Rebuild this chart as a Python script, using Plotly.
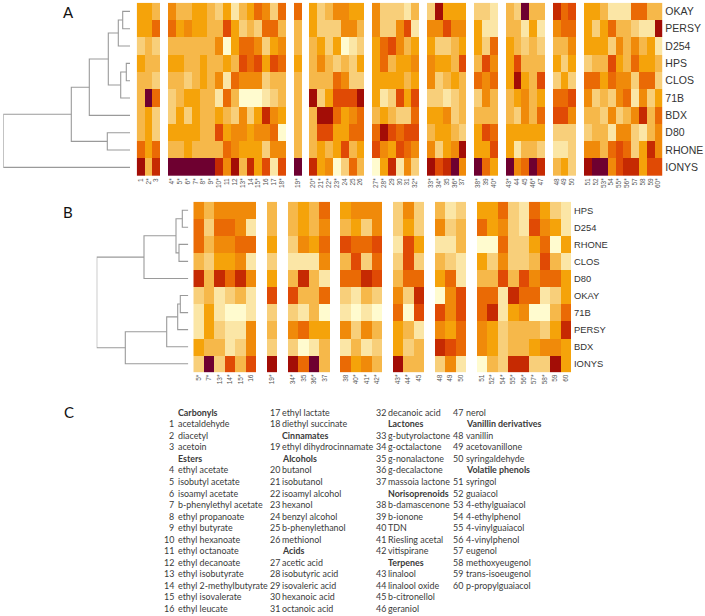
import plotly.graph_objects as go

W, H = 705, 616

rows_a = ["OKAY", "PERSY", "D254", "HPS", "CLOS", "71B", "BDX", "D80", "RHONE", "IONYS"]
groups_a = [
    ["1", "2*", "3"],
    ["4*", "5*", "6*", "7*", "8*", "9*", "10*", "11", "12", "13*", "14", "15*", "16", "17", "18*"],
    ["19*"],
    ["20*", "21*", "22*", "23*", "24", "25", "26"],
    ["27*", "28*", "29", "30", "31", "32*"],
    ["33*", "34*", "35", "36*", "37"],
    ["38*", "39", "40*"],
    ["43*", "44", "45", "46*", "47"],
    ["48", "49", "50"],
    ["51", "52", "53*", "54", "55*", "56*", "57", "58", "59", "60*"],
]
levels_a = [
    [4,4,3, 5,3,3,4,4,3,2,4,1,3,4,6,5,2,6, 6, 4,2,3,5,5,4,4, 5,2,2,2,1,3, 2,9,4,4,4, 2,2,1, 3,2,10,3,3, 8,6,7, 4,4,3,1,1,1,6,6,3,3],
    [4,4,6, 6,4,5,4,4,3,3,7,4,2,3,2,6,6,3, 3, 4,2,2,2,5,5,3, 5,2,2,5,7,1, 5,5,7,5,5, 4,1,1, 3,3,1,4,1, 5,6,6, 4,2,4,6,3,3,2,1,1,9],
    [2,3,2, 3,3,3,3,3,3,5,0,4,6,6,5,2,4,5, 3, 3,4,2,4,0,1,2, 4,6,7,5,3,4, 4,2,2,3,4, 4,2,6, 4,3,2,3,2, 3,3,5, 4,4,4,2,5,3,5,3,4,1],
    [4,3,3, 4,4,3,3,4,3,3,4,3,7,6,7,4,7,6, 4, 3,5,3,2,3,2,4, 4,6,3,4,4,5, 5,4,4,3,7, 3,7,5, 4,7,3,3,3, 4,2,4, 2,3,3,7,4,3,6,4,4,3],
    [3,3,2, 3,3,2,3,4,3,5,1,6,5,5,5,2,3,3, 3, 3,3,3,6,5,2,2, 4,4,4,4,3,4, 5,2,3,4,3, 6,5,6, 4,9,4,3,7, 2,4,2, 6,6,4,6,5,5,2,6,6,2],
    [3,10,6, 2,3,4,4,3,3,1,6,3,0,0,0,1,2,3, 3, 9,2,4,7,7,7,9, 4,1,2,7,4,7, 2,2,1,2,3, 2,5,3, 3,4,5,3,4, 6,6,7, 5,2,3,2,5,6,1,5,2,4],
    [3,4,2, 2,4,2,4,3,3,4,3,2,5,2,4,8,5,4, 3, 3,9,9,6,4,5,6, 3,4,3,2,2,6, 4,4,5,2,3, 3,3,3, 3,2,5,3,6, 7,7,5, 3,3,2,5,2,3,5,8,3,6],
    [3,4,2, 4,4,4,4,3,3,7,4,5,5,4,5,5,6,0, 3, 3,7,7,4,4,6,6, 6,9,7,6,7,7, 3,4,4,3,2, 4,7,6, 4,4,4,4,4, 2,2,2, 2,3,3,1,5,5,2,1,3,5],
    [6,4,6, 3,3,4,3,3,3,3,6,5,4,4,4,2,5,5, 3, 3,4,3,4,7,3,4, 7,5,4,7,6,5, 5,2,4,5,9, 4,4,7, 4,1,3,3,2, 1,1,2, 5,5,3,6,7,6,2,4,8,5],
    [9,3,8, 10,10,10,10,10,10,8,5,9,3,8,4,7,1,7, 10, 8,4,5,0,2,6,3, 0,4,8,1,5,2, 9,7,8,10,5, 10,6,4, 10,5,6,10,8, 3,4,2, 9,10,10,5,7,8,8,4,7,7],
]

rows_b = ["HPS", "D254", "RHONE", "CLOS", "D80", "OKAY", "71B", "PERSY", "BDX", "IONYS"]
groups_b = [
    ["5*", "7*", "13*", "14*", "15*", "16"],
    ["19*"],
    ["34*", "35", "36*", "37"],
    ["38", "40*", "41*", "42*"],
    ["43*", "44*", "45"],
    ["48", "49", "50"],
    ["51", "52*", "54*", "55*", "56*", "57*", "58*", "59", "60"],
]
levels_b = [
    [5,3,5,5,5,5, 3, 3,4,3,6, 4,5,5,5, 2,5,2, 3,1,2, 4,4,6,2,1,6,4,2,1],
    [6,2,6,6,5,1, 3, 3,4,3,5, 3,4,2,5, 2,4,2, 5,2,3, 6,4,5,2,1,7,5,4,1],
    [6,3,5,5,6,6, 4, 2,5,4,6, 7,6,6,7, 1,7,4, 1,1,3, 0,0,6,2,2,4,6,0,4],
    [3,2,4,4,5,1, 2, 1,1,1,5, 3,7,2,6, 2,7,2, 3,2,1, 4,2,5,2,2,3,7,3,1],
    [8,3,8,6,8,5, 4, 3,8,3,1, 6,6,8,7, 3,6,6, 4,6,1, 3,3,7,3,7,5,6,6,4],
    [2,3,1,2,3,1, 7, 7,3,3,6, 2,1,3,2, 5,2,8, 0,5,7, 6,6,1,8,6,6,1,2,4],
    [1,4,1,0,0,1, 2, 2,1,3,0, 1,0,1,0, 6,0,7, 7,5,7, 6,8,1,4,5,0,0,3,6],
    [1,4,2,1,1,5, 3, 5,6,4,4, 5,2,5,3, 4,3,1, 5,4,6, 5,4,2,3,3,3,2,4,8],
    [4,3,3,1,2,5, 2, 2,0,1,3, 1,3,1,2, 4,2,3, 8,7,6, 5,4,2,3,3,4,5,5,4],
    [2,10,2,7,3,7, 9, 9,6,10,3, 6,4,5,3, 9,3,3, 2,5,1, 0,3,2,8,8,2,2,9,4],
]

# dendrogram merges: (child, child, distance); a child is a row index or a previous merge "m<i>"
merges_a = [(0, 1, 7.3), ("m0", 2, 11.7), (3, 4, 3.7), ("m2", 5, 9.3), ("m1", "m3", 21.7),
            ("m4", 6, 40.7), (7, 8, 22.7), ("m5", "m6", 58.7), ("m7", 9, 126.7)]
merges_b = [(0, 1, 6.0), (2, 3, 9.3), ("m0", "m1", 12.3), ("m2", 4, 44.3), (5, 6, 8.0),
            ("m4", 7, 10.6), ("m5", 8, 21.6), ("m6", 9, 63.0), ("m3", "m7", 91.6)]

text_columns = [
    [("", "Carbonyls", 1), ("1", "acetaldehyde", 0), ("2", "diacetyl", 0), ("3", "acetoin", 0), ("", "Esters", 1),
     ("4", "ethyl acetate", 0), ("5", "isobutyl acetate", 0), ("6", "isoamyl acetate", 0),
     ("7", "b-phenylethyl acetate", 0), ("8", "ethyl propanoate", 0), ("9", "ethyl butyrate", 0),
     ("10", "ethyl hexanoate", 0), ("11", "ethyl octanoate", 0), ("12", "ethyl decanoate", 0),
     ("13", "ethyl isobutyrate", 0), ("14", "ethyl 2-methylbutyrate", 0), ("15", "ethyl isovalerate", 0),
     ("16", "ethyl leucate", 0)],
    [("17", "ethyl lactate", 0), ("18", "diethyl succinate", 0), ("", "Cinnamates", 1),
     ("19", "ethyl dihydrocinnamate", 0), ("", "Alcohols", 1), ("20", "butanol", 0), ("21", "isobutanol", 0),
     ("22", "isoamyl alcohol", 0), ("23", "hexanol", 0), ("24", "benzyl alcohol", 0), ("25", "b-phenylethanol", 0),
     ("26", "methionol", 0), ("", "Acids", 1), ("27", "acetic acid", 0), ("28", "isobutyric acid", 0),
     ("29", "isovaleric acid", 0), ("30", "hexanoic acid", 0), ("31", "octanoic acid", 0)],
    [("32", "decanoic acid", 0), ("", "Lactones", 1), ("33", "g-butyrolactone", 0), ("34", "g-octalactone", 0),
     ("35", "g-nonalactone", 0), ("36", "g-decalactone", 0), ("37", "massoia lactone", 0), ("", "Norisoprenoids", 1),
     ("38", "b-damascenone", 0), ("39", "b-ionone", 0), ("40", "TDN", 0), ("41", "Riesling acetal", 0),
     ("42", "vitispirane", 0), ("", "Terpenes", 1), ("43", "linalool", 0), ("44", "linalool oxide", 0),
     ("45", "b-citronellol", 0), ("46", "geraniol", 0)],
    [("47", "nerol", 0), ("", "Vanillin derivatives", 1), ("48", "vanillin", 0), ("49", "acetovanillone", 0),
     ("50", "syringaldehyde", 0), ("", "Volatile phenols", 1), ("51", "syringol", 0), ("52", "guaiacol", 0),
     ("53", "4-ethylguaiacol", 0), ("54", "4-ethylphenol", 0), ("55", "4-vinylguaiacol", 0), ("56", "4-vinylphenol", 0),
     ("57", "eugenol", 0), ("58", "methoxyeugenol", 0), ("59", "trans-isoeugenol", 0), ("60", "p-propylguaiacol", 0)],
]

palette = ["#FFFBCF", "#FBE6A6", "#F8CF7A", "#F6B84A", "#F5A30A", "#F08A0A",
           "#EA6A05", "#E04A05", "#C62A02", "#A30D06", "#6E0030"]
colorscale = [[i / 10, c] for i, c in enumerate(palette)]


def px_x(x):
    return x / W


def px_y(y):
    return 1 - y / H


def layout_groups(groups, levels):
    """Insert one blank column between groups; returns positions, labels, z with gaps."""
    pos, labels = [], []
    p = 0
    for gi, g in enumerate(groups):
        for lab in g:
            pos.append(p)
            labels.append(lab)
            p += 1
        if gi < len(groups) - 1:
            p += 1
    n = p
    z = []
    for row in levels:
        r = [None] * n
        for x, v in zip(pos, row):
            r[x] = v
        z.append(r)
    return pos, labels, z, n


def dendro(merges):
    xs, ys = [], []
    nodes = {}

    def get(c):
        if isinstance(c, str):
            return nodes[c]
        return (0.0, float(c))

    for i, (a, b, d) in enumerate(merges):
        (da, ya), (db, yb) = get(a), get(b)
        xs += [da, d, d, db, None]
        ys += [ya, ya, yb, yb, None]
        nodes[f"m{i}"] = (d, (ya + yb) / 2)
    return xs, ys


fig = go.Figure()


def panel(idx, rows, groups, levels, merges, hx0, hx1, hy0, hy1, dx0, dx1, droot, label_size):
    pos, labels, z, n = layout_groups(groups, levels)
    sx = "" if idx == 0 else str(idx * 2 + 1)
    sy = sx
    dxn = str(idx * 2 + 2)
    fig.add_trace(go.Heatmap(z=z, x=list(range(n)), y=rows, colorscale=colorscale, zmin=0, zmax=10,
                             showscale=False, hoverongaps=False, xaxis="x" + sx, yaxis="y" + sy))
    xs, ys = dendro(merges)
    fig.add_trace(go.Scatter(x=xs, y=ys, mode="lines", line=dict(color="#9A9A9A", width=1.1), showlegend=False,
                             xaxis="x" + dxn, yaxis="y" + dxn, hoverinfo="skip"))
    fig.layout["xaxis" + sx] = dict(domain=[px_x(hx0), px_x(hx1)], anchor="y" + sy, range=[-0.5, n - 0.5],
                                    tickmode="array", tickvals=pos, ticktext=labels, tickangle=-90,
                                    tickfont=dict(family="Liberation Sans", size=6.5, color="#555"),
                                    ticks="", showgrid=False, zeroline=False, showline=False, ticklabelstandoff=0)
    fig.layout["yaxis" + sy] = dict(domain=[px_y(hy1), px_y(hy0)], anchor="x" + sx, autorange="reversed",
                                    side="right", ticks="", showgrid=False, zeroline=False, showline=False,
                                    ticklabelstandoff=2,
                                    tickfont=dict(family="Liberation Sans", size=label_size, color="#333"))
    fig.layout["xaxis" + dxn] = dict(domain=[px_x(dx0), px_x(dx1)], anchor="y" + dxn, range=[droot, 0],
                                     visible=False)
    fig.layout["yaxis" + dxn] = dict(domain=[px_y(hy1), px_y(hy0)], anchor="x" + dxn, range=[9.5, -0.5],
                                     visible=False)


panel(0, rows_a, groups_a, levels_a, merges_a, 136.7, 662.3, 2.7, 176.0, 3.3, 130.0, 126.7, 10.5)
panel(1, rows_b, groups_b, levels_b, merges_b, 193.3, 571.0, 201.7, 372.3, 96.7, 188.3, 91.6, 9.4)

ann = []
for lab, x, y in [("A", 68, 12), ("B", 68, 212), ("C", 69, 412)]:
    ann.append(dict(text=lab, x=px_x(x), y=px_y(y), xref="paper", yref="paper", showarrow=False, xanchor="center",
                    yanchor="middle", font=dict(family="Lato", size=15, color="#111")))

col_num_x = [176.5, 281.5, 388.0, 465.0]
col_name_x = [175.5, 279.5, 386.5, 463.8]
y0, pitch = 412.3, 11.53
for cx, nx, col in zip(col_num_x, col_name_x, text_columns):
    for i, (num, name, bold) in enumerate(col):
        y = y0 + pitch * i
        if num:
            ann.append(dict(text=num, x=px_x(cx), y=px_y(y), xref="paper", yref="paper", showarrow=False,
                            xanchor="right", yanchor="middle",
                            font=dict(family="Lato", size=8.9, color="#3A3A3A")))
        ann.append(dict(text=f"<b>{name}</b>" if bold else name, x=px_x(nx), y=px_y(y), xref="paper", yref="paper",
                        showarrow=False, xanchor="left", yanchor="middle",
                        font=dict(family="Lato", size=8.9, color="#3A3A3A")))

fig.update_layout(width=W, height=H, margin=dict(l=0, r=0, t=0, b=0), plot_bgcolor="white", paper_bgcolor="white",
                  annotations=ann, showlegend=False)
fig.write_html("out.html", config={"displayModeBar": False},
               post_script="document.body.style.margin='0';document.body.style.overflow='hidden';")
